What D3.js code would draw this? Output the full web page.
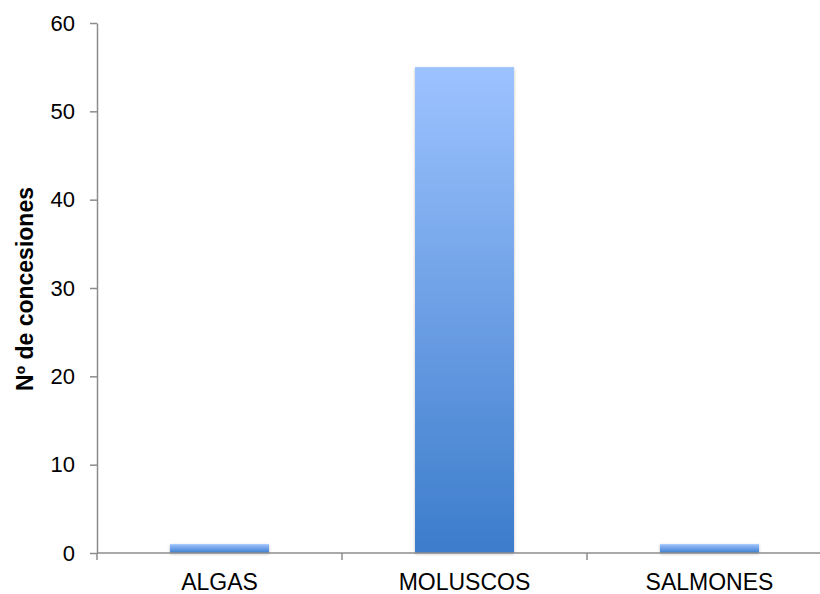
<!DOCTYPE html>
<html>
<head>
<meta charset="utf-8">
<script src="https://cdn.jsdelivr.net/npm/d3@7/dist/d3.min.js"></script>
<style>
  html, body { margin: 0; padding: 0; background: #fff; }
  svg { display: block; font-family: "Liberation Sans", Arial, sans-serif; }
</style>
</head>
<body>
<svg id="chart" width="820" height="594"></svg>
<script>
// Number of concessions by aquaculture type
const categories = ["ALGAS", "MOLUSCOS", "SALMONES"];
const values = [1, 55, 1];
const yTicks = [0, 10, 20, 30, 40, 50, 60];
const yTitle = "Nº de concesiones";

const svg = d3.select("#chart");
const margin = { left: 97, top: 23, bottom: 41 };
const plotW = 735; // three category slots; the last one runs past the right edge
const plotH = 594 - margin.top - margin.bottom;

const x = d3.scaleBand()
  .domain(categories)
  .range([margin.left, margin.left + plotW])
  .paddingInner(0.596)
  .paddingOuter(0.298);

const y = d3.scaleLinear()
  .domain([0, 60])
  .range([margin.top + plotH, margin.top]);

const defs = svg.append("defs");
// Each bar fades from light blue at its top to a deeper blue at its base
const grad = defs.append("linearGradient")
  .attr("id", "barGrad")
  .attr("x1", 0).attr("x2", 0)
  .attr("y1", 0).attr("y2", 1);
grad.append("stop").attr("offset", "0%").attr("stop-color", "#9dc3ff");
grad.append("stop").attr("offset", "100%").attr("stop-color", "#3c7ccb");

const shadow = defs.append("filter").attr("id", "shadow")
  .attr("x", "-20%").attr("y", "-50%").attr("width", "140%").attr("height", "200%");
shadow.append("feDropShadow")
  .attr("dx", 0).attr("dy", 1).attr("stdDeviation", 1.5)
  .attr("flood-color", "#000").attr("flood-opacity", 0.25);

// Bars
svg.append("g").selectAll("rect")
  .data(categories.map((c, i) => ({ c, v: values[i] })))
  .join("rect")
  .attr("x", d => x(d.c))
  .attr("width", x.bandwidth())
  .attr("y", d => y(d.v))
  .attr("height", d => y(0) - y(d.v))
  .attr("fill", "url(#barGrad)")
  .attr("filter", "url(#shadow)");

// Y axis
const yAxis = svg.append("g")
  .attr("transform", `translate(${margin.left},0)`)
  .call(d3.axisLeft(y).tickValues(yTicks).tickSize(7).tickPadding(15).tickSizeOuter(0));
yAxis.select(".domain").attr("stroke", "#8c8c8c").attr("stroke-width", 1.5);
yAxis.selectAll(".tick line").attr("stroke", "#8c8c8c").attr("stroke-width", 1.5);
yAxis.selectAll(".tick text")
  .attr("fill", "#000")
  .style("font-size", "22px")
  .style("font-family", "Liberation Sans, Arial, sans-serif");

// X axis with ticks at category boundaries
const xAxisG = svg.append("g")
  .attr("transform", `translate(0,${y(0)})`);
xAxisG.append("line")
  .attr("x1", margin.left).attr("x2", margin.left + plotW)
  .attr("stroke", "#8c8c8c").attr("stroke-width", 1.5);
const bounds = d3.range(categories.length + 1).map(i => margin.left + i * x.step());
xAxisG.selectAll("line.sep")
  .data(bounds)
  .join("line")
  .attr("class", "sep")
  .attr("x1", d => d).attr("x2", d => d)
  .attr("y1", 0).attr("y2", 7)
  .attr("stroke", "#8c8c8c").attr("stroke-width", 1.5);
xAxisG.selectAll("text")
  .data(categories)
  .join("text")
  .attr("x", d => x(d) + x.bandwidth() / 2)
  .attr("y", 37)
  .attr("text-anchor", "middle")
  .style("font-size", "23px")
  .attr("fill", "#000")
  .text(d => d);

// Y title
svg.append("text")
  .attr("transform", `translate(33,289) rotate(-90)`)
  .attr("text-anchor", "middle")
  .style("font-size", "23px")
  .style("font-weight", "bold")
  .attr("fill", "#000")
  .text(yTitle);
</script>
</body>
</html>
